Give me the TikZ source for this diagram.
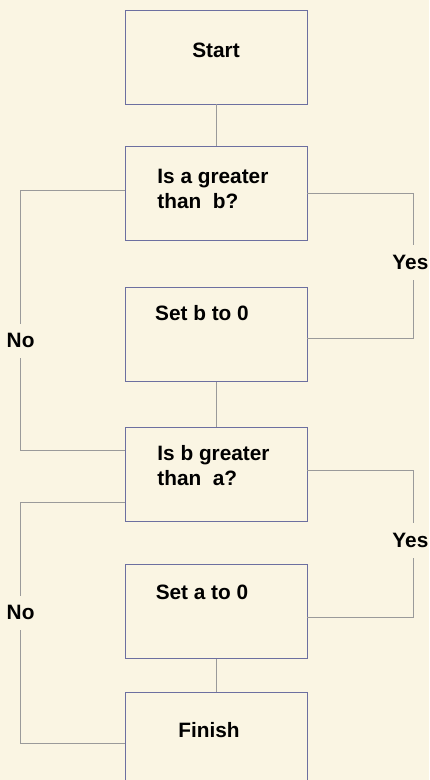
\documentclass[tikz,border=0pt]{standalone}
\usepackage{fontspec}
\setsansfont{Liberation Sans}
\definecolor{paper}{HTML}{FAF5E3}
\definecolor{slate}{HTML}{6C6FA0}
\definecolor{wire}{HTML}{9A9A9A}

\begin{document}
\begin{tikzpicture}[x=1pt, y=-1pt, line width=0.8pt,
  font=\sffamily\bfseries\fontsize{20.8}{25}\selectfont,
  box/.style={draw=slate, minimum width=182pt, minimum height=94pt, inner sep=0pt},
  txt/.style={inner sep=0pt, align=left},
  link/.style={draw=wire},
  lbl/.style={fill=paper, inner xsep=1pt, inner ysep=10pt}]
  % page
  \fill[paper] (0,0) rectangle (429,780);
  \useasboundingbox (0,0) rectangle (429,780);

  % the six boxes, top to bottom
  \node[box] (start) at (216,57)    {};
  \node[box] (q1)    at (216,193)   {};
  \node[box] (setb)  at (216,334.5) {};
  \node[box] (q2)    at (216,474.5) {};
  \node[box] (seta)  at (216,611.5) {};
  \node[box] (fin)   at (216,739)   {};

  % texts (sit high in the boxes)
  \node[txt] (tstart) at (216,50)  {Start};
  \node[txt, anchor=west] (tq1) at (157,189) {Is a greater\\than~ b?};
  \node[txt] (tsetb)  at (202,313) {Set b to 0};
  \node[txt, anchor=west] (tq2) at (157,466) {Is b greater\\than~ a?};
  \node[txt] (tseta)  at (202,592) {Set a to 0};
  \node[txt] (tfin)   at (209,730) {Finish};

  % straight links
  \draw[link] (start) -- (q1);
  \draw[link] (setb) -- (q2);
  \draw[link] (seta) -- (fin);

  % yes branches on the right
  \draw[link] (q1.east) -- ++(106,0)
     |- node[lbl, pos=0.24, xshift=-3pt]{Yes} ([yshift=-3.5pt]setb.east);
  \draw[link] ([yshift=4.5pt]q2.east) -- ++(106,0)
     |- node[lbl, pos=0.24, xshift=-3pt]{Yes} ([yshift=-5.5pt]seta.east);

  % no branches on the left
  \draw[link] ([yshift=3pt]q1.west) -- ++(-104,0)
     |- node[lbl, pos=0.29]{No} ([yshift=24.5pt]q2.west);
  \draw[link] ([yshift=-27.5pt]q2.west) -- ++(-104,0)
     |- node[lbl, pos=0.23]{No} ([yshift=-4pt]fin.west);
\end{tikzpicture}
\end{document}
